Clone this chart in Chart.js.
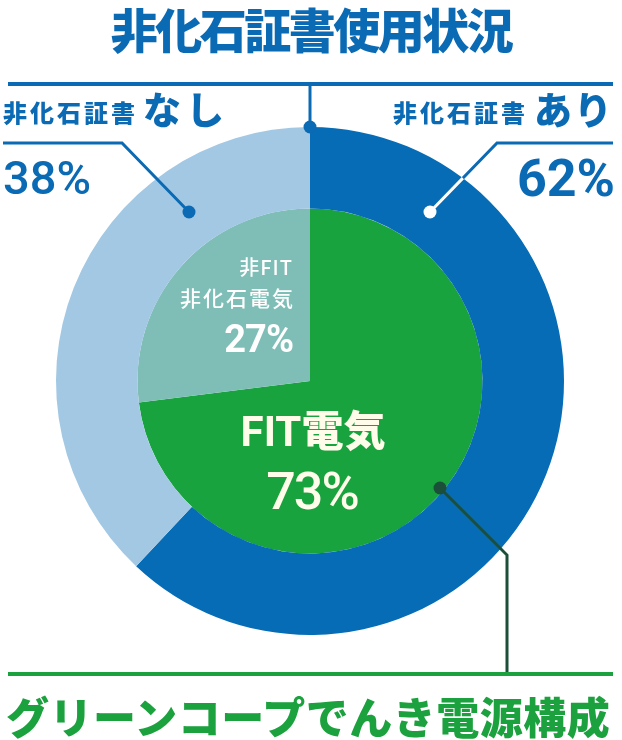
<!DOCTYPE html>
<html><head><meta charset="utf-8">
<script src="https://cdn.jsdelivr.net/npm/chart.js@4/dist/chart.umd.min.js"></script>
<style>
html,body{margin:0;padding:0;background:#fff;width:622px;height:740px;overflow:hidden}
#wrap{position:relative;width:622px;height:740px}
canvas{position:absolute;left:0;top:0}
.t{position:absolute;line-height:1;white-space:nowrap;font-family:"Noto Sans CJK JP",sans-serif}
.num{font-family:Roboto,"Noto Sans CJK JP",sans-serif}
</style></head><body>
<div id="wrap">
<canvas id="c" width="622" height="740"></canvas>
<div class="t" id="title" style="left:0;width:622px;text-align:center;top:4px;font-size:47px;font-weight:900;color:#0b6ab4;letter-spacing:-2.5px">非化石証書使用状況</div>
<div class="t" style="left:3px;top:100px;font-size:24px;font-weight:900;color:#0b6ab4;letter-spacing:3px">非化石証書</div>
<div class="t" style="left:143px;top:89px;font-size:38px;font-weight:900;color:#0b6ab4;letter-spacing:5px">なし</div>
<div class="t num" style="left:3px;top:154px;font-size:47px;font-weight:500;color:#0b6ab4">38%</div>
<div class="t" style="left:393px;top:100px;font-size:24px;font-weight:900;color:#0b6ab4;letter-spacing:3px">非化石証書</div>
<div class="t" style="right:8px;top:89px;font-size:38px;font-weight:900;color:#0b6ab4;letter-spacing:2px">あり</div>
<div class="t num" style="right:7px;top:153px;font-size:52px;font-weight:700;color:#0b6ab4">62%</div>
<div class="t" style="right:329px;top:257px;font-size:20px;font-weight:500;color:#fff;letter-spacing:1px;text-align:right">非FIT</div>
<div class="t" style="right:327px;top:287px;font-size:21px;font-weight:500;color:#fff;letter-spacing:2px;text-align:right">非化石電気</div>
<div class="t num" style="right:329px;top:320px;font-size:38px;font-weight:700;color:#fff;letter-spacing:-1px">27%</div>
<div class="t num" style="left:0;width:626px;text-align:center;top:407px;font-size:42px;font-weight:700;color:#fffcea">FIT<span style="font-family:'Noto Sans CJK JP';font-weight:900">電気</span></div>
<div class="t num" style="left:0;width:624px;text-align:center;top:466px;font-size:52px;font-weight:500;color:#fffcea;letter-spacing:-2px">73%</div>
<div class="t" style="left:6px;top:694px;font-size:43px;font-weight:900;color:#1ba13d;letter-spacing:0.5px">グリーンコープでんき電源構成</div>
</div>
<script>
const certCategories = ['非化石証書あり', '非化石証書なし'];
const certValues = [62, 38];
const sourceCategories = ['FIT電気', '非FIT非化石電気'];
const sourceValues = [73, 27];

const BLUE = '#0b6ab4';
const calloutPlugin = {
  id: 'callouts',
  afterDatasetsDraw(chart) {
    const ctx = chart.ctx;
    const arc = chart.getDatasetMeta(0).data[0];
    const cx = arc.x, cy = arc.y, R = arc.outerRadius;
    ctx.save();
    ctx.lineCap = 'butt';
    ctx.lineJoin = 'miter';
    function line(pts, color, w) {
      ctx.beginPath();
      ctx.moveTo(pts[0][0], pts[0][1]);
      for (let i = 1; i < pts.length; i++) ctx.lineTo(pts[i][0], pts[i][1]);
      ctx.strokeStyle = color; ctx.lineWidth = w; ctx.stroke();
    }
    function dot(x, y, r, color) {
      ctx.beginPath(); ctx.arc(x, y, r, 0, Math.PI * 2); ctx.fillStyle = color; ctx.fill();
    }
    line([[8, 84], [613, 84]], BLUE, 4);
    line([[cx, 84], [cx, cy - R]], BLUE, 3);
    dot(cx, cy - R, 6.5, BLUE);
    line([[3, 143], [122, 143], [189, 212]], BLUE, 3);
    dot(189, 212, 6.5, BLUE);
    const a = [430, 212], b = [497, 143];
    line([[613, 143], b, a], BLUE, 3);
    const dx = b[0] - a[0], dy = b[1] - a[1];
    const px = a[0] - cx, py = a[1] - cy;
    const A = dx * dx + dy * dy, B = 2 * (px * dx + py * dy), C = px * px + py * py - R * R;
    const t = (-B + Math.sqrt(B * B - 4 * A * C)) / (2 * A);
    line([a, [a[0] + dx * t, a[1] + dy * t]], '#ffffff', 3);
    dot(a[0], a[1], 6.5, '#ffffff');
    line([[8, 674], [613, 674]], '#1ba13d', 4);
    line([[440, 488], [507, 555], [507, 672]], '#1c4f3a', 3);
    dot(440, 488, 6.5, '#1c4f3a');
    ctx.restore();
  }
};

new Chart(document.getElementById('c'), {
  type: 'doughnut',
  data: {
    labels: certCategories,
    datasets: [
      { label: '非化石証書使用状況', data: certValues, backgroundColor: ['#066cb6', '#a2c8e4'], borderWidth: 0, weight: 81.5 },
      { label: 'グリーンコープでんき電源構成', data: sourceValues, backgroundColor: ['#18a33f', '#7ebeb6'], borderWidth: 0, weight: 172.5 }
    ]
  },
  options: {
    responsive: false,
    animation: false,
    cutout: 0,
    layout: { padding: { left: 56, right: 58, top: 127, bottom: 105 } },
    plugins: { legend: { display: false }, tooltip: { enabled: false }, title: { display: false } }
  },
  plugins: [calloutPlugin]
});
</script>
</body></html>
